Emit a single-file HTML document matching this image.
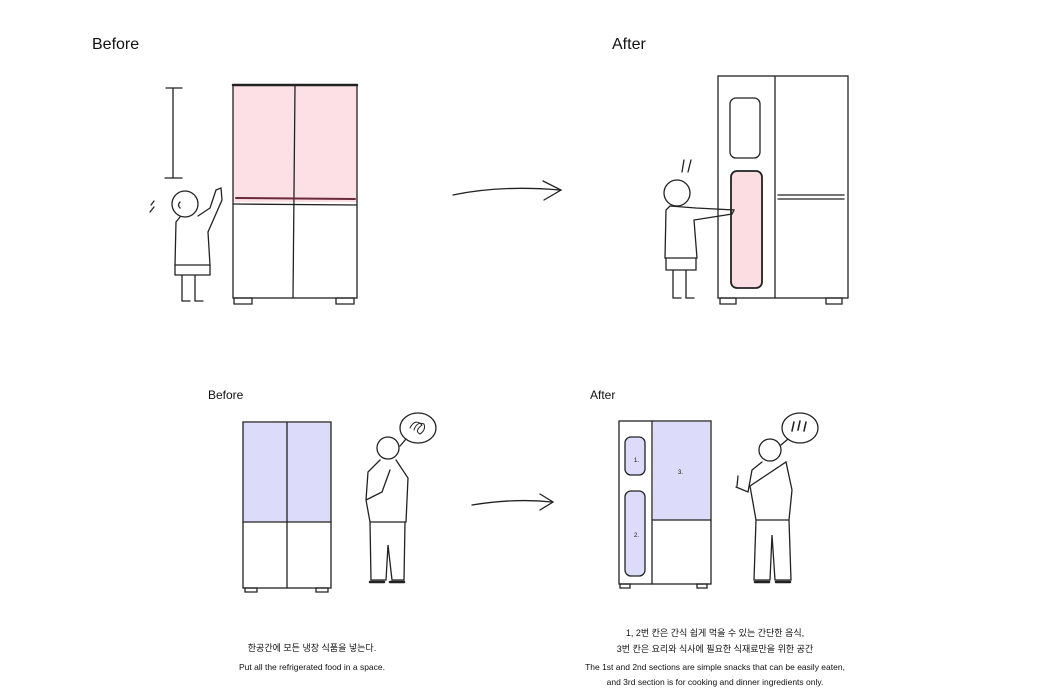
<!DOCTYPE html>
<html><head><meta charset="utf-8"><style>
html,body{margin:0;padding:0;background:#fff;}
svg{display:block}
text{font-family:"Liberation Sans","Noto Sans CJK KR",sans-serif;fill:#111}
</style></head><body>
<svg width="1050" height="700" viewBox="0 0 1050 700" xmlns="http://www.w3.org/2000/svg">
<g fill="none" stroke="#222" stroke-width="1.3" stroke-linecap="round">
<!-- Top left -->
<text x="92" y="49" font-size="16" stroke="none">Before</text>
<rect x="233" y="86" width="124" height="116" fill="#fde0e6" stroke="none"/>
<rect x="233" y="85" width="124" height="213"/>
<line x1="233" y1="85" x2="357" y2="85" stroke-width="2.5"/>
<line x1="295" y1="86" x2="293" y2="298"/>
<line x1="236" y1="198" x2="355" y2="199" stroke-width="2" stroke="#6a2a3a"/>
<line x1="233" y1="204" x2="357" y2="205"/>
<path d="M234 298h18v6h-18zM336 298h18v6h-18z"/>
<line x1="173" y1="88" x2="173" y2="178"/><line x1="166" y1="88" x2="182" y2="88"/><line x1="165" y1="178" x2="182" y2="178"/>
<circle cx="185" cy="204" r="13"/>
<path d="M180 208 q-3 -3 0 -6"/>
<path d="M180 217 L176 222 L175 265 L210 265 L208 232 L222 200 L221 188 L216 190 L210 208 L198 216"/>
<path d="M175 265 v10 h35 v-10 M182 275 v26 h8 M195 275 v26 h8"/>
<path d="M151 205 l3 -4 M150 212 l4 -5"/>
<!-- Arrow top -->
<path d="M453 195 Q500 185 560 190"/><path d="M543 181 L561 190 L544 200"/>
<!-- Top right -->
<text x="612" y="49" font-size="16" stroke="none">After</text>
<rect x="718" y="76" width="130" height="222"/>
<line x1="775" y1="77" x2="775" y2="298"/>
<rect x="730" y="98" width="30" height="60" rx="6"/>
<rect x="731" y="171" width="31" height="117" rx="6" fill="#fbdde2" stroke-width="1.8"/>
<line x1="778" y1="195" x2="844" y2="195"/><line x1="778" y1="199" x2="844" y2="199"/>
<path d="M720 298h16v6h-16zM826 298h16v6h-16z"/>
<circle cx="677" cy="193" r="13"/>
<path d="M684 160 l-2 12 M691 160 l-3 12"/>
<path d="M670 206 L666 210 L665 258 L697 258 L694 220 L732 214 L734 210 L696 208 Z"/>
<path d="M666 258 v12 h30 v-12 M673 270 v28 h8 M686 270 v28 h8"/>
<!-- Bottom left -->
<text x="208" y="399" font-size="12" stroke="none">Before</text>
<rect x="243" y="423" width="88" height="99" fill="#dcdcfa" stroke="none"/>
<rect x="243" y="422" width="88" height="166"/>
<line x1="287" y1="423" x2="287" y2="588"/>
<line x1="243" y1="522" x2="331" y2="522"/>
<path d="M245 588h12v4h-12zM316 588h12v4h-12z"/>
<ellipse cx="418" cy="428" rx="18" ry="15"/><path d="M406 439 l-6 7"/>
<path d="M410 428 q5 -10 12 -3 q-8 6 -2 9 q6 -4 4 -10 q-7 -3 -10 6" stroke-width="1"/>
<circle cx="388" cy="448" r="11"/>
<path d="M380 460 L368 472 L366 500 L370 522 L406 522 L408 478 L396 460 M366 500 L382 492 L390 470"/>
<path d="M370 522 L371 580 L386 580 L388 545 L392 580 L404 580 L405 522"/>
<path d="M370 582 h14 M390 582 h14" stroke-width="2.5"/>
<!-- Arrow bottom -->
<path d="M472 505 Q515 498 552 502"/><path d="M540 494 L553 502 L540 510"/>
<!-- Bottom right -->
<text x="590" y="399" font-size="12" stroke="none">After</text>
<rect x="653" y="422" width="57" height="98" fill="#dcdcfa" stroke="none"/>
<rect x="619" y="421" width="92" height="163"/>
<line x1="652" y1="421" x2="652" y2="584"/>
<line x1="652" y1="520" x2="711" y2="520"/>
<rect x="625" y="437" width="20" height="38" rx="6" fill="#dcdcfa"/>
<rect x="625" y="491" width="20" height="85" rx="6" fill="#dcdcfa"/>
<text x="634" y="462" font-size="6" stroke="none">1.</text>
<text x="634" y="537" font-size="6" stroke="none">2.</text>
<text x="678" y="474" font-size="6" stroke="none">3.</text>
<path d="M620 584h10v4h-10zM697 584h10v4h-10z"/>
<ellipse cx="800" cy="428" rx="18" ry="15"/><path d="M788 439 l-7 6"/>
<path d="M794 422 l-2 9 M800 421 l-2 9 M806 422 l-2 9" stroke-width="1.6"/>
<circle cx="770" cy="450" r="11"/>
<path d="M762 462 L752 470 L748 492 L736 487 M737 486 l1 -10 M750 486 L756 520 L789 520 L792 490 L786 462 Z"/>
<path d="M756 520 L754 580 L770 580 L772 535 L775 580 L791 580 L789 520"/>
<path d="M755 582 h14 M776 582 h14" stroke-width="2.5"/>
</g>
<g font-size="9" text-anchor="middle">
<text x="312" y="651">한공간에 모든 냉장 식품을 넣는다.</text>
<text x="312" y="670" font-size="8.5">Put all the refrigerated food in a space.</text>
<text x="715" y="636">1, 2번 칸은 간식 쉽게 먹을 수 있는 간단한 음식,</text>
<text x="715" y="652">3번 칸은 요리와 식사에 필요한 식재료만을 위한 공간</text>
<text x="715" y="670" font-size="8.5">The 1st and 2nd sections are simple snacks that can be easily eaten,</text>
<text x="715" y="685" font-size="8.5">and 3rd section is for cooking and dinner ingredients only.</text>
</g>
</svg>
</body></html>
